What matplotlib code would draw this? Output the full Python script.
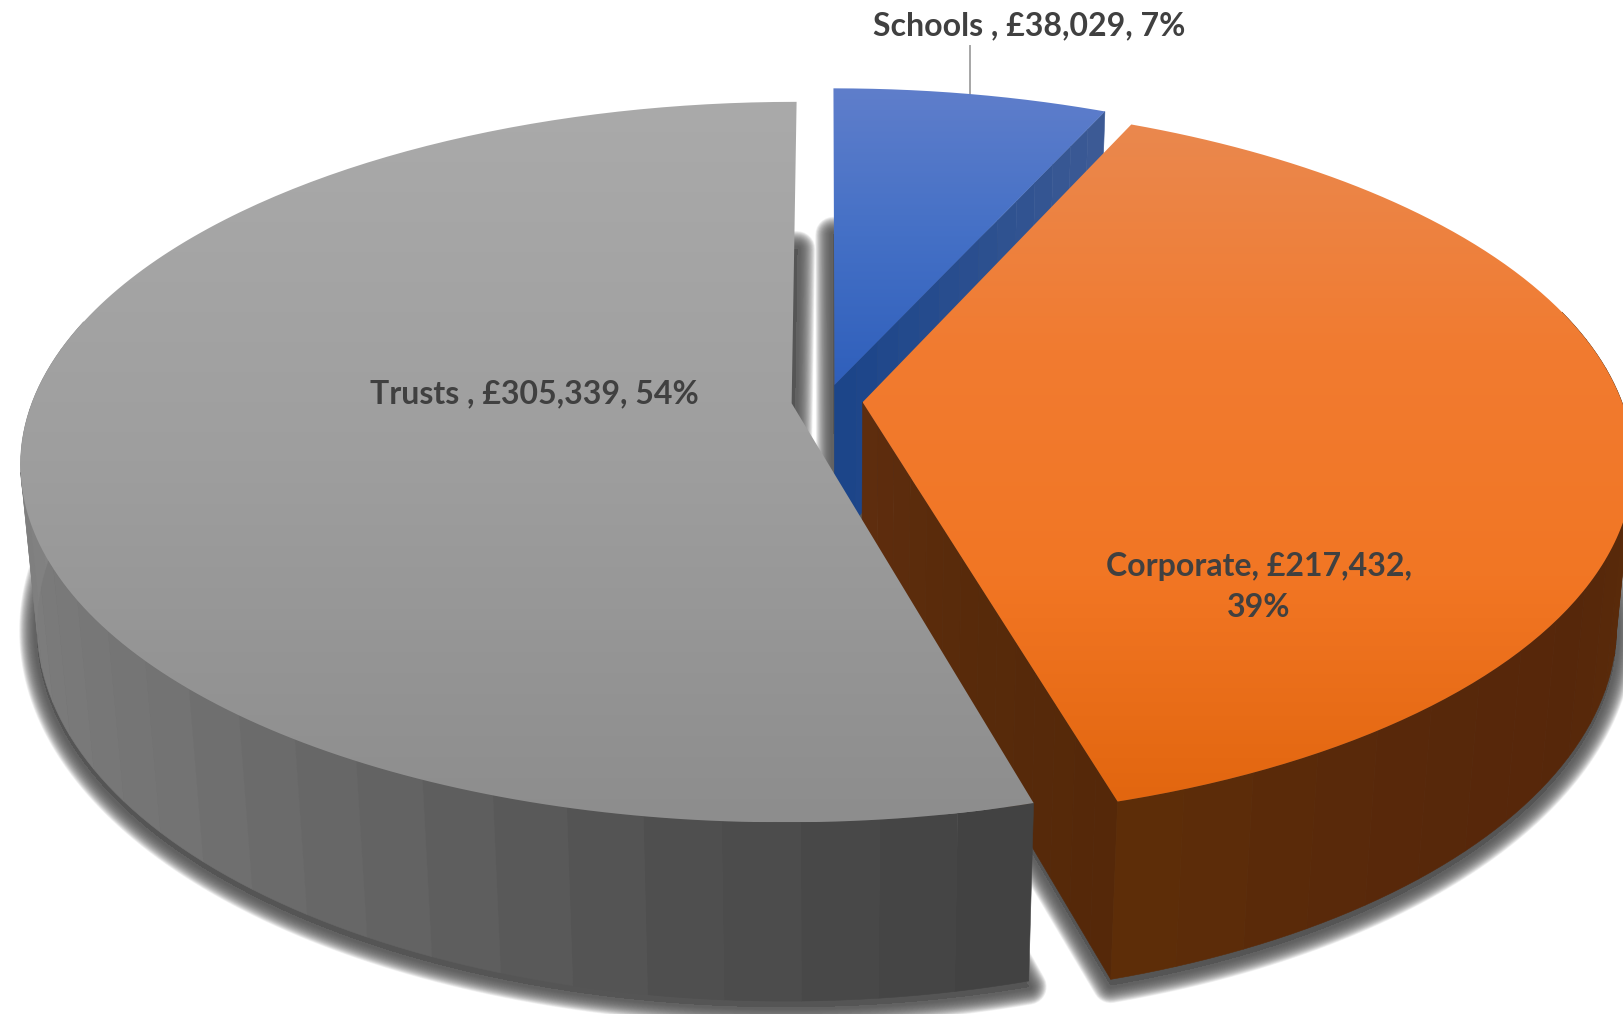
import numpy as np
import matplotlib
matplotlib.use("Agg")
import matplotlib.pyplot as plt
from matplotlib.patches import PathPatch, Polygon
from matplotlib.path import Path
from matplotlib.colors import LinearSegmentedColormap, to_rgb

# funding by source
names = ["Schools ", "Corporate", "Trusts "]
values = [38029, 217432, 305339]

top_colors = [
    ["#5f7ecb", "#4470c6", "#2f5fbb"],
    ["#ea884e", "#f17b30", "#f27624", "#e2660f"],
    ["#aaaaaa", "#9e9e9e", "#8d8d8d"],
]
wall_angles = [
    [0, 180],
    [60, 90, 120, 145, 165],
    [165, 185, 205, 225, 245, 265, 285],
]
wall_colors = [
    ["#2b4f8f", "#2b4f8f"],
    ["#5f2e0a", "#5c2d0a", "#56270a", "#58280a", "#5e2e08"],
    ["#414141", "#4e4e4e", "#626262", "#727272", "#7a7a7a", "#808080", "#8a8a8a"],
]
side_colors = [["#1b4488", "#2b4f8f", "#3d5b95"], ["#5e2d0e", "#572a0a", "#552809"]]

W, H = 1623, 1014
CX, CY = 827, 401
SCALE = 759.0
PERSP = 0.163
SIN_E = 0.461
COS_E = np.sqrt(1 - SIN_E ** 2)
DIST = COS_E / PERSP
DEPTH = 0.24
EXPLODE = 0.047
STEP = 5.0


# perspective camera looking down on the pie
def project(x, y, z=0.0):
    w = DIST + y * COS_E - z * SIN_E
    u = y * SIN_E + z * COS_E
    return CX + SCALE * DIST * x / w, CY - SCALE * DIST * u / w


def rim(ang, off, z=0.0):
    t = np.radians(ang)
    return project(off[0] + np.sin(t), off[1] + np.cos(t), z)


def slice_outline(a0, a1, off, z=0.0):
    ang = np.linspace(a0, a1, 200)
    xs, ys = rim(ang, off, z)
    vx, vy = project(off[0], off[1], z)
    return np.column_stack([np.r_[vx, xs], np.r_[vy, ys]])


def mix(stops, t):
    rgb = np.array([to_rgb(c) for c in stops])
    pos = np.linspace(0, 1, len(stops))
    return [np.interp(t, pos, rgb[:, i]) for i in range(3)]


def shaded(ang_stops, col_stops, a):
    rgb = np.array([to_rgb(c) for c in col_stops])
    return [np.interp(a, ang_stops, rgb[:, i]) for i in range(3)]


def quad(ax, pts, color, z):
    ax.add_patch(Polygon(pts, closed=True, fc=color, ec=color, lw=0.4, zorder=z))


fig = plt.figure(figsize=(W / 100, H / 100), dpi=100)
ax = fig.add_axes([0, 0, 1, 1])
ax.set_xlim(0, W)
ax.set_ylim(H, 0)
ax.axis("off")

total = sum(values)
spans = np.array(values) / total * 360
starts = np.r_[0, np.cumsum(spans)[:-1]]
offsets = []
for a0, sp in zip(starts, spans):
    mid = np.radians(a0 + sp / 2)
    offsets.append((EXPLODE * np.sin(mid), EXPLODE * np.cos(mid)))

# soft shadow under each slice
for i in range(3):
    base = slice_outline(starts[i], starts[i] + spans[i], offsets[i], -DEPTH * 1.01)
    base = base + [0, 4]
    for lw in np.linspace(26, 3, 36):
        ax.add_patch(Polygon(base, closed=True, fc="#555555", ec="#555555", lw=lw,
                             alpha=0.06, joinstyle="round", zorder=1))

for i in range(3):
    a0, a1, off = starts[i], starts[i] + spans[i], offsets[i]
    z = 2 + i * 3

    # cut face that the camera can see
    if i < 2:
        n = 14
        t = np.radians(a1)
        for j in range(n):
            r0, r1 = j / n, (j + 1) / n
            pts = []
            for r, zz in [(r0, 0), (r1, 0), (r1, -DEPTH), (r0, -DEPTH)]:
                pts.append(project(off[0] + r * np.sin(t), off[1] + r * np.cos(t), zz))
            quad(ax, pts, mix(side_colors[i], (j + 0.5) / n), z)

    # outer wall, one flat panel per step, front-facing part only
    edges = np.r_[np.arange(a0, a1, STEP), a1]
    for e0, e1 in zip(edges[:-1], edges[1:]):
        if np.cos(np.radians((e0 + e1) / 2)) > 0.25:
            continue
        fine = np.linspace(e0, e1, 5)
        tx, ty = rim(fine, off, 0)
        bx, by = rim(fine[::-1], off, -DEPTH)
        pts = np.column_stack([np.r_[tx, bx], np.r_[ty, by]])
        quad(ax, pts, shaded(wall_angles[i], wall_colors[i], (e0 + e1) / 2), z + 1)

    # top face with vertical gradient
    outline = slice_outline(a0, a1, off)
    ymin, ymax = outline[:, 1].min(), outline[:, 1].max()
    cmap = LinearSegmentedColormap.from_list("top%d" % i, top_colors[i])
    grad = np.linspace(0, 1, 256).reshape(-1, 1)
    im = ax.imshow(grad, cmap=cmap, extent=[outline[:, 0].min(), outline[:, 0].max(), ymax, ymin],
                   aspect="auto", zorder=z + 2, interpolation="bilinear")
    clip = PathPatch(Path(np.vstack([outline, outline[0]])), transform=ax.transData,
                     fc="none", ec="none")
    ax.add_patch(clip)
    im.set_clip_path(clip)

ax.set_xlim(0, W)
ax.set_ylim(H, 0)

# data labels
pct = [round(v / total * 100) for v in values]
label = ["%s, £%s, %d%%" % (n, format(v, ","), p) for n, v, p in zip(names, values, pct)]
font = dict(family="Lato", weight="bold", size=23, color="#404040", ha="center", va="center", zorder=20)
ax.text(1029, 26, label[0], **font)
ax.text(534, 394, label[2], **font)
ax.text(1259, 587, "%s, £%s,\n%d%%" % (names[1], format(values[1], ","), pct[1]),
        linespacing=1.5, **font)

# leader line for the outside label
ax.plot([970, 970], [46, 94], color="#a6a6a6", lw=1.4, zorder=1)

fig.savefig("out.png", dpi=100)
